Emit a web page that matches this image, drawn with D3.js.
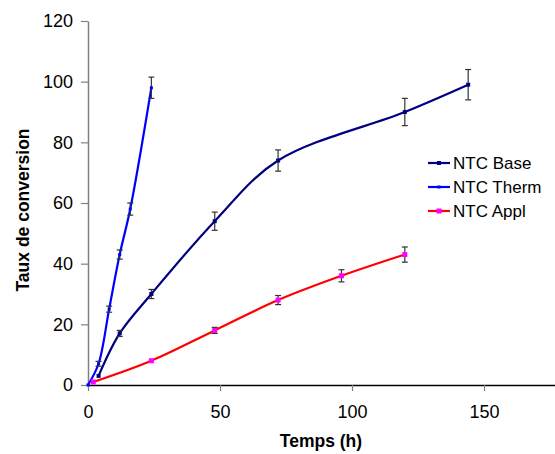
<!DOCTYPE html>
<html>
<head>
<meta charset="utf-8">
<script src="https://cdn.jsdelivr.net/npm/d3@7"></script>
<style>
  body { margin: 0; background: #fff; }
  svg { display: block; font-family: Arial, "Liberation Sans", sans-serif; }
</style>
</head>
<body>
<div id="chart"></div>
<script>
"use strict";

// hours
const baseTime = [4, 12, 24, 48, 72, 120, 144];
const baseValue = [3, 17, 30, 54, 74, 90, 99];
const baseErr = [0.5, 1, 1.5, 3, 3.5, 4.5, 5];

const thermTime = [0, 4, 8, 12, 16, 24];
const thermValue = [0, 7, 25, 43, 58, 98];
const thermErr = [0, 0.8, 1, 1.5, 2, 3.5];

const applTime = [2, 24, 48, 72, 96, 120];
const applValue = [1, 8, 18, 28, 36, 43];
const applErr = [0.5, 0.5, 1, 1.5, 2, 2.5];

const xTicks = [0, 50, 100, 150];
const yTicks = [0, 20, 40, 60, 80, 100, 120];

const series = [
  { name: "NTC Base", time: baseTime, value: baseValue, err: baseErr, line: "#000080", marker: "#000080", size: 4 },
  { name: "NTC Therm", time: thermTime, value: thermValue, err: thermErr, line: "#0000ff", marker: "#0000ff", size: 3 },
  { name: "NTC Appl", time: applTime, value: applValue, err: applErr, line: "#ff0000", marker: "#ff00ff", size: 5 }
];

const W = 555, H = 454;
const svg = d3.select("#chart").append("svg").attr("width", W).attr("height", H);

const x = d3.scaleLinear().domain([0, 177]).range([88, 555.3]);
const y = d3.scaleLinear().domain([0, 120]).range([385, 21]);

// y axis (grey)
const yAxis = svg.append("g")
  .attr("transform", "translate(88,0)")
  .call(d3.axisLeft(y).tickValues(yTicks).tickSize(7).tickPadding(8).tickSizeOuter(0));
yAxis.select(".domain").attr("stroke", "#808080").attr("stroke-width", 1.5);
yAxis.selectAll(".tick line").attr("stroke", "#808080").attr("stroke-width", 1.2);
yAxis.selectAll("text").attr("font-size", 18).attr("fill", "#000")
  .style("font-family", "Arial, 'Liberation Sans', sans-serif");

// x axis (black)
const xAxis = svg.append("g")
  .attr("transform", "translate(0,385)")
  .call(d3.axisBottom(x).tickValues(xTicks).tickSize(6).tickPadding(14).tickSizeOuter(0));
xAxis.select(".domain").attr("stroke", "#000").attr("stroke-width", 1.3);
xAxis.selectAll(".tick line").attr("stroke", "#808080").attr("stroke-width", 1.2);
xAxis.selectAll("text").attr("font-size", 18).attr("fill", "#000")
  .style("font-family", "Arial, 'Liberation Sans', sans-serif");

svg.append("text")
  .attr("x", 321).attr("y", 447)
  .attr("text-anchor", "middle")
  .attr("font-size", 17.5).attr("font-weight", "bold")
  .text("Temps (h)");

svg.append("text")
  .attr("transform", "translate(29,210) rotate(-90)")
  .attr("text-anchor", "middle")
  .attr("font-size", 17.5).attr("font-weight", "bold")
  .text("Taux de conversion");

const line = d3.line()
  .x(d => x(d.t))
  .y(d => y(d.v))
  .curve(d3.curveCatmullRom.alpha(0.5));

series.forEach(function(s) {
  const pts = s.time.map((t, i) => ({ t: t, v: s.value[i], e: s.err[i] }));
  const g = svg.append("g");

  g.append("path")
    .datum(pts)
    .attr("fill", "none")
    .attr("stroke", s.line)
    .attr("stroke-width", 2.2)
    .attr("d", line);

  // error bars
  const eb = g.selectAll(".eb").data(pts.filter(d => d.e > 0.6)).enter().append("g");
  eb.append("line")
    .attr("x1", d => x(d.t)).attr("x2", d => x(d.t))
    .attr("y1", d => y(d.v - d.e)).attr("y2", d => y(d.v + d.e))
    .attr("stroke", "#333").attr("stroke-width", 1.2);
  [-1, 1].forEach(function(sign) {
    eb.append("line")
      .attr("x1", d => x(d.t) - 3).attr("x2", d => x(d.t) + 3)
      .attr("y1", d => y(d.v + sign * d.e)).attr("y2", d => y(d.v + sign * d.e))
      .attr("stroke", "#333").attr("stroke-width", 1.2);
  });

  g.selectAll("rect").data(pts).enter().append("rect")
    .attr("x", d => x(d.t) - s.size / 2)
    .attr("y", d => y(d.v) - s.size / 2)
    .attr("width", s.size).attr("height", s.size)
    .attr("fill", s.marker);
});

// legend
const legend = svg.append("g").attr("transform", "translate(428,163)");
series.forEach(function(s, i) {
  const row = legend.append("g").attr("transform", "translate(0," + (i * 24) + ")");
  row.append("line")
    .attr("x1", 0).attr("x2", 22).attr("y1", 0).attr("y2", 0)
    .attr("stroke", s.line).attr("stroke-width", 2.2);
  row.append("rect")
    .attr("x", 11 - s.size / 2).attr("y", -s.size / 2)
    .attr("width", s.size).attr("height", s.size)
    .attr("fill", s.marker);
  row.append("text")
    .attr("x", 25).attr("y", 6)
    .attr("font-size", 17)
    .text(s.name);
});
</script>
</body>
</html>
